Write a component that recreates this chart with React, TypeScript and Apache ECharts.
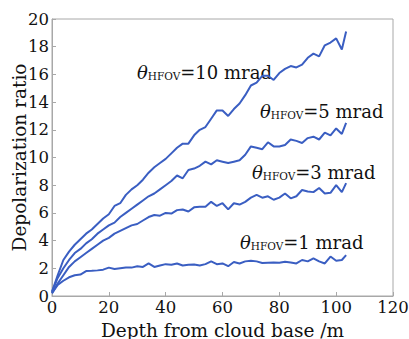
import React, { useEffect, useRef } from "react";
import * as echarts from "echarts";

const depth = [0, 2, 4, 6, 8, 10, 12, 14, 16, 18, 20, 22, 24, 26, 28, 30, 32, 34, 36, 38, 40, 42, 44, 46, 48, 50, 52, 54, 56, 58, 60, 62, 64, 66, 68, 70, 72, 74, 76, 78, 80, 82, 84, 86, 88, 90, 92, 94, 96, 98, 100, 102, 103.5];

const hfov10 = [0.3, 1.5, 2.6, 3.2, 3.7, 4.1, 4.5, 4.8, 5.2, 5.6, 5.9, 6.5, 6.7, 7.3, 7.7, 8.0, 8.4, 8.9, 9.3, 9.6, 9.9, 10.3, 10.7, 11.0, 11.0, 11.6, 12.0, 12.2, 12.8, 13.4, 13.4, 13.0, 13.5, 13.9, 14.5, 15.2, 15.4, 15.9, 15.9, 15.6, 16.1, 16.4, 16.6, 16.5, 16.7, 17.2, 17.5, 17.3, 18.1, 18.3, 18.6, 17.8, 19.1];

const hfov5 = [0.3, 1.3, 2.0, 2.6, 3.1, 3.4, 3.8, 4.1, 4.5, 4.8, 5.1, 5.3, 5.7, 6.0, 6.3, 6.6, 6.9, 7.2, 7.4, 7.7, 8.0, 8.3, 8.7, 8.5, 9.1, 9.2, 9.4, 9.7, 9.5, 9.8, 9.7, 9.6, 9.7, 9.8, 10.2, 10.8, 10.7, 10.6, 11.1, 10.8, 10.8, 10.9, 11.3, 11.2, 11.05, 11.4, 11.5, 11.3, 11.8, 11.6, 12.1, 11.7, 12.5];

const hfov3 = [0.2, 0.9, 1.5, 2.1, 2.5, 2.8, 3.1, 3.4, 3.7, 4.0, 4.2, 4.5, 4.7, 4.9, 5.1, 5.2, 5.45, 5.7, 5.85, 5.8, 6.0, 5.95, 6.2, 6.25, 6.1, 6.4, 6.45, 6.45, 6.8, 6.5, 6.7, 6.25, 6.7, 6.6, 6.8, 7.1, 7.3, 7.1, 7.2, 6.95, 7.1, 7.4, 7.05, 7.2, 7.65, 7.55, 7.5, 7.8, 7.4, 7.45, 8.0, 7.5, 8.15];

const hfov1 = [0.2, 0.8, 1.1, 1.35, 1.5, 1.55, 1.8, 1.82, 1.85, 1.9, 2.05, 1.95, 2.0, 2.05, 2.05, 2.15, 2.1, 2.35, 2.1, 2.2, 2.3, 2.25, 2.35, 2.2, 2.25, 2.28, 2.2, 2.3, 2.5, 2.3, 2.35, 2.15, 2.45, 2.35, 2.5, 2.55, 2.5, 2.38, 2.4, 2.42, 2.4, 2.48, 2.42, 2.35, 2.6, 2.5, 2.72, 2.5, 2.35, 2.85, 2.55, 2.6, 2.95];

const seriesNames = ["10 mrad", "5 mrad", "3 mrad", "1 mrad"];
const labelValues = ["=10 mrad", "=5 mrad", "=3 mrad", "=1 mrad"];

const FONT = "DejaVu Serif";
const BLUE = "#3a5ec2";
const GRAY = "#a8a8a8";

export default function App() {
  const ref = useRef<HTMLDivElement>(null);
  useEffect(() => {
    if (!ref.current) return;
    const chart = echarts.init(ref.current, null, { renderer: "svg" });
    const all = [hfov10, hfov5, hfov3, hfov1];
    const labelPos = [
      [137, 67],
      [260, 106],
      [252, 167],
      [240, 237],
    ];
    const rich = {
      th: { fontFamily: FONT, fontSize: 18, fontStyle: "italic", lineHeight: 28, verticalAlign: "bottom", fill: "#111" },
      sub: { fontFamily: FONT, fontSize: 10.5, lineHeight: 6, verticalAlign: "bottom", fill: "#111" },
      v: { fontFamily: FONT, fontSize: 18, lineHeight: 28, verticalAlign: "bottom", fill: "#111" },
    };
    chart.setOption({
      animation: false,
      backgroundColor: "#fff",
      grid: { left: 52, right: 16, top: 19, bottom: 43, show: true, borderColor: GRAY, borderWidth: 1, outerBoundsMode: "none", containLabel: false },
      xAxis: {
        type: "value",
        min: 0,
        max: 120,
        interval: 20,
        name: "Depth from cloud base /m",
        nameLocation: "middle",
        nameGap: 25,
        nameMoveOverlap: false,
        nameTextStyle: { fontFamily: FONT, fontSize: 18.5, color: "#111" },
        axisLine: { show: true, lineStyle: { color: GRAY } },
        axisTick: { show: true, inside: true, length: 4, lineStyle: { color: GRAY } },
        axisLabel: { fontFamily: FONT, fontSize: 16.5, color: "#111", margin: 3 },
        splitLine: { show: false },
      },
      yAxis: {
        type: "value",
        min: 0,
        max: 20,
        interval: 2,
        name: "Depolarization ratio",
        nameLocation: "middle",
        nameGap: 23,
        nameMoveOverlap: false,
        nameTextStyle: { fontFamily: FONT, fontSize: 18.5, color: "#111" },
        axisLine: { show: true, lineStyle: { color: GRAY } },
        axisTick: { show: true, inside: true, length: 4, lineStyle: { color: GRAY } },
        axisLabel: { fontFamily: FONT, fontSize: 16.5, color: "#111", margin: 3 },
        splitLine: { show: false },
      },
      series: all.map((vals, k) => ({
        name: seriesNames[k],
        type: "line",
        data: depth.map((d, i) => [d, vals[i]]),
        showSymbol: false,
        symbol: "none",
        lineStyle: { color: BLUE, width: 2 },
      })),
      graphic: labelValues.map((t, k) => ({
        type: "text",
        x: labelPos[k][0],
        y: labelPos[k][1],
        style: {
          text: `{th|θ}{sub|HFOV}{v|${t}}`,
          rich,
          verticalAlign: "middle",
          align: "left",
        },
      })),
    });
    return () => chart.dispose();
  }, []);
  return <div ref={ref} style={{ position: "fixed", left: 0, top: 0, width: 409, height: 339 }} />;
}
